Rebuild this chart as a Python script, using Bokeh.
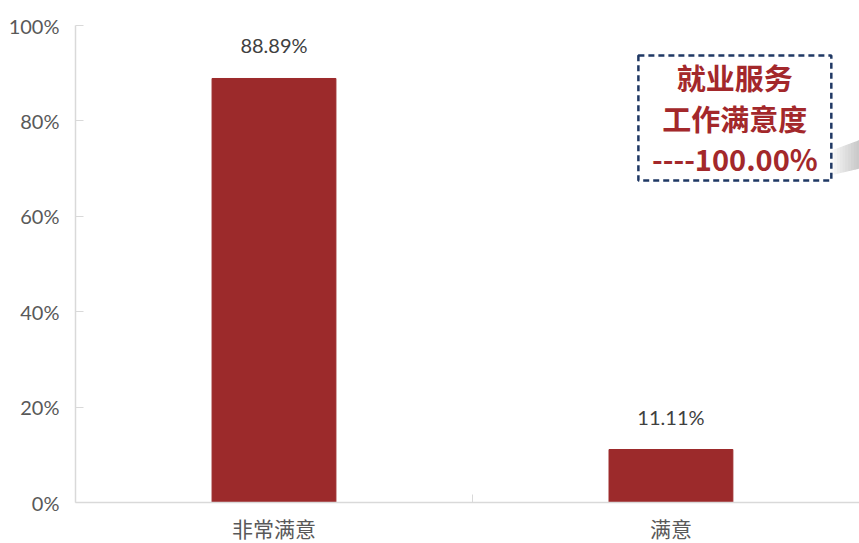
from bokeh.plotting import figure
from bokeh.models import Range1d, FixedTicker, NumeralTickFormatter, BoxAnnotation, ColumnDataSource
from bokeh.core.properties import value
from bokeh.embed import file_html
from bokeh.resources import INLINE

categories = ["非常满意", "满意"]
shares = [0.8889, 0.1111]
share_labels = ["88.89%", "11.11%"]
y_ticks = [0, 0.2, 0.4, 0.6, 0.8, 1.0]
box_lines = ["就业服务", "工作满意度", "----100.00%"]

xs = [i + 0.5 for i in range(len(categories))]
src = ColumnDataSource(dict(x=xs, top=shares, lab=share_labels))

p = figure(frame_width=784, frame_height=477, output_backend="svg", toolbar_location=None,
           x_range=Range1d(0, 1.975), y_range=Range1d(0, 1),
           min_border_left=75, min_border_right=0, min_border_top=25, min_border_bottom=0)
p.outline_line_color = None
p.grid.visible = False
p.background_fill_color = "white"

# soft shadow to the right of the note box (wedge, darker to the right)
xa0, xa1 = 1.904, 1.975
top0, top1 = 0.738, 0.760
bot0, bot1 = 0.686, 0.700
n = 10
for k in range(n):
    t = k / n
    x0 = xa0 + (xa1 - xa0) * t
    yt = top0 + (top1 - top0) * t
    yb = bot0 + (bot1 - bot0) * t
    p.patch(x=[x0, xa1, xa1, x0], y=[yt, top1, bot1, yb],
            fill_color="#7a7a7a", fill_alpha=0.045, line_color=None)

# annotation box (drawn beneath glyphs)
p.add_layout(BoxAnnotation(left=1.418, right=1.904, bottom=0.675, top=0.937,
                           fill_color="white", fill_alpha=1.0, level="underlay",
                           line_color="#1f3864", line_alpha=1.0, line_width=2.5, line_dash="6 4"))

p.vbar(x="x", top="top", width=0.312, bottom=0, source=src, color="#9c2a2b")
p.text(x="x", y="top", text="lab", source=src, text_align="center", text_baseline="bottom",
       y_offset=-21, text_font=value("Lato"), text_font_size="20px", text_color="#404040")

# y axis
ya = p.yaxis[0]
ya.ticker = FixedTicker(ticks=y_ticks)
ya.formatter = NumeralTickFormatter(format="0%")
ya.axis_line_color = "#d9d9d9"
ya.axis_line_width = 1.5
ya.major_tick_line_color = "#d9d9d9"
ya.major_tick_in = 8
ya.major_tick_out = 0
ya.minor_tick_line_color = None
ya.major_label_text_font = "Lato"
ya.major_label_text_font_size = "20px"
ya.major_label_text_color = "#595959"
ya.major_label_standoff = 16

xa = p.xaxis[0]
xa.ticker = FixedTicker(ticks=xs, minor_ticks=[1])
xa.major_label_overrides = {x: c for x, c in zip(xs, categories)}
xa.axis_line_color = "#d9d9d9"
xa.axis_line_width = 1.5
xa.major_tick_line_color = None
xa.minor_tick_line_color = "#d9d9d9"
xa.minor_tick_in = 8
xa.minor_tick_out = 0
xa.major_label_text_font = "Noto Sans CJK SC"
xa.major_label_text_font_size = "21px"
xa.major_label_text_color = "#595959"
xa.major_label_standoff = 4

ty = [0.891, 0.807, 0.723]
p.text(x=[1.661] * 3, y=ty, text=box_lines, text_align="center", text_baseline="middle",
       text_font=value("Noto Sans CJK SC"), text_font_style="bold", text_font_size="29px",
       text_color="#a3282b")

open("out.html", "w").write(file_html(p, INLINE))
